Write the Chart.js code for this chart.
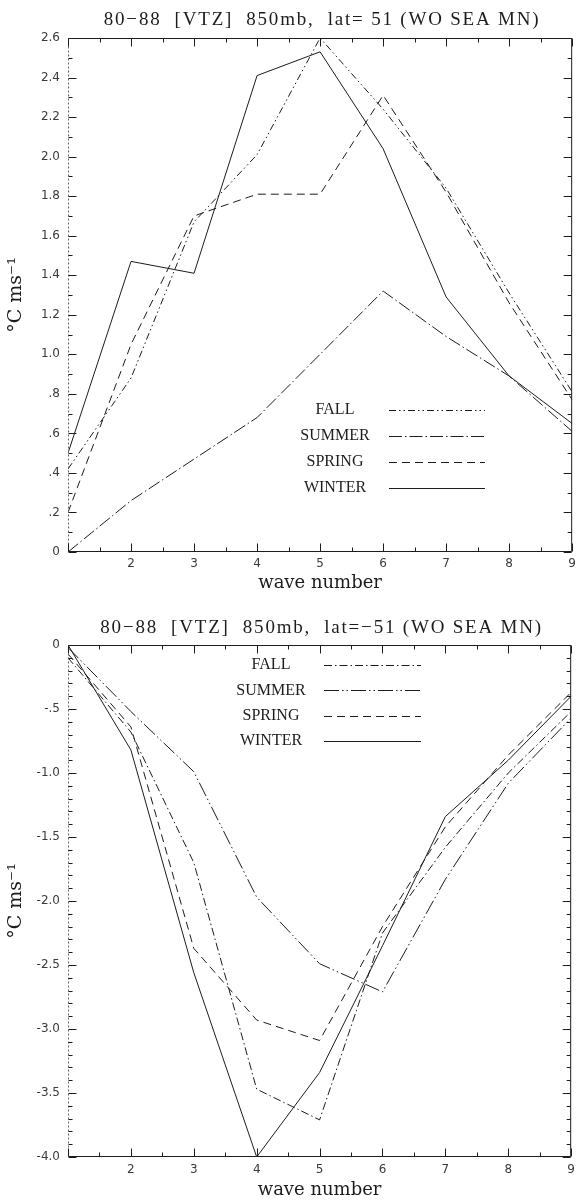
<!DOCTYPE html>
<html>
<head>
<meta charset="utf-8">
<script src="https://cdn.jsdelivr.net/npm/chart.js@4.4.0/dist/chart.umd.min.js"></script>
<style>
  body { margin: 0; background: #fff; }
  canvas { display: block; }
</style>
</head>
<body>
<canvas id="northChart" width="581" height="600"></canvas>
<canvas id="southChart" width="581" height="601"></canvas>
<script>
var waveNumbers = [1, 2, 3, 4, 5, 6, 7, 8, 9];
var waveTickLabels = ["", "2", "3", "4", "5", "6", "7", "8", "9"];

// lat = 51
var northFall = [0.42, 0.88, 1.67, 2.01, 2.60, 2.24, 1.84, 1.31, 0.81];
var northSummer = [0.00, 0.26, 0.47, 0.68, 1.00, 1.32, 1.09, 0.89, 0.61];
var northSpring = [0.20, 1.05, 1.70, 1.81, 1.81, 2.31, 1.82, 1.26, 0.77];
var northWinter = [0.50, 1.47, 1.41, 2.41, 2.53, 2.04, 1.29, 0.89, 0.65];
var northTickValues = [0, 0.2, 0.4, 0.6, 0.8, 1.0, 1.2, 1.4, 1.6, 1.8, 2.0, 2.2, 2.4, 2.6];
var northTickLabels = ["0", ".2", ".4", ".6", ".8", "1.0", "1.2", "1.4", "1.6", "1.8", "2.0", "2.2", "2.4", "2.6"];

// lat = -51
var southFall = [-0.10, -0.68, -1.70, -3.47, -3.71, -2.25, -1.58, -1.00, -0.52];
var southSummer = [-0.02, -0.52, -0.99, -1.97, -2.49, -2.71, -1.83, -1.08, -0.57];
var southSpring = [-0.07, -0.64, -2.37, -2.93, -3.09, -2.20, -1.42, -0.86, -0.37];
var southWinter = [0.00, -0.82, -2.56, -4.00, -3.34, -2.35, -1.34, -0.90, -0.40];
var southTickValues = [-4.0, -3.5, -3.0, -2.5, -2.0, -1.5, -1.0, -0.5, 0];
var southTickLabels = ["-4.0", "-3.5", "-3.0", "-2.5", "-2.0", "-1.5", "-1.0", "-.5", "0"];

var INK = "#1c1c1c";

function points(values) {
  return waveNumbers.map(function (w, i) { return { x: w, y: values[i] }; });
}

// box around the plot with inward major/minor tick marks on all four sides
var frameTicks = {
  id: "frameTicks",
  afterDatasetsDraw: function (chart, args, opts) {
    var ctx = chart.ctx, a = chart.chartArea;
    var xs = chart.scales.x, ys = chart.scales.y;
    var L = a.left + 0.5, R = a.right - 0.5, T = a.top + 0.5, B = a.bottom - 0.5;
    ctx.save();
    ctx.strokeStyle = INK;
    ctx.lineWidth = 1;
    ctx.beginPath();
    ctx.moveTo(L, T); ctx.lineTo(R, T); ctx.lineTo(R, B); ctx.lineTo(L, B);
    ctx.stroke();
    ctx.setLineDash([2, 2]);
    ctx.strokeStyle = "#666";
    ctx.beginPath();
    ctx.moveTo(L, T); ctx.lineTo(L, B);
    ctx.stroke();
    ctx.setLineDash([]);
    ctx.strokeStyle = INK;
    ctx.beginPath();
    var v, p, len, n;
    for (n = 0, v = xs.min; v <= xs.max + 1e-9; n++, v = xs.min + n * opts.xMinor) {
      p = Math.round(xs.getPixelForValue(v)) + 0.5;
      len = Math.abs(v - Math.round(v)) < 1e-6 ? opts.major : opts.minor;
      ctx.moveTo(p, B); ctx.lineTo(p, B - len);
      ctx.moveTo(p, T); ctx.lineTo(p, T + len);
    }
    for (n = 0, v = ys.min; v <= ys.max + 1e-9; n++, v = ys.min + n * opts.yMinor) {
      p = Math.round(ys.getPixelForValue(v)) + 0.5;
      len = opts.yMajorValues.some(function (t) { return Math.abs(t - v) < 1e-6; }) ? opts.major : opts.minor;
      ctx.moveTo(L, p); ctx.lineTo(L + len, p);
      ctx.moveTo(R, p); ctx.lineTo(R - len, p);
    }
    ctx.stroke();
    ctx.restore();
  }
};

// season key drawn inside the plot: name on the left, line sample on the right
var seasonLegend = {
  id: "seasonLegend",
  afterDraw: function (chart, args, opts) {
    var ctx = chart.ctx;
    ctx.save();
    ctx.font = opts.font;
    ctx.fillStyle = INK;
    ctx.textAlign = "center";
    ctx.textBaseline = "middle";
    chart.data.datasets.forEach(function (ds, i) {
      var y = opts.top + i * opts.rowGap;
      ctx.fillText(ds.label, opts.labelX, y);
      ctx.strokeStyle = ds.borderColor;
      ctx.lineWidth = ds.borderWidth;
      ctx.setLineDash(ds.borderDash || []);
      ctx.beginPath();
      ctx.moveTo(opts.lineFrom, Math.round(y) + 0.5);
      ctx.lineTo(opts.lineTo, Math.round(y) + 0.5);
      ctx.stroke();
    });
    ctx.restore();
  }
};

// letter-spaced heading above the plot, centred on the chart area
var spacedTitle = {
  id: "spacedTitle",
  afterDraw: function (chart, args, opts) {
    var ctx = chart.ctx, a = chart.chartArea;
    ctx.save();
    ctx.font = opts.font;
    if ("letterSpacing" in ctx) ctx.letterSpacing = opts.spacing;
    ctx.fillStyle = INK;
    ctx.textAlign = "center";
    ctx.textBaseline = "middle";
    ctx.fillText(opts.text, (a.left + a.right) / 2 + opts.shift, opts.y);
    ctx.restore();
  }
};

function line(label, values, dash) {
  return {
    label: label,
    data: points(values),
    borderColor: INK,
    borderWidth: 1,
    borderDash: dash,
    pointRadius: 0,
    tension: 0,
    fill: false
  };
}

function makeChart(id, s) {
  var ctx = document.getElementById(id);
  return new Chart(ctx, {
    type: "line",
    data: { datasets: s.datasets },
    plugins: [frameTicks, seasonLegend, spacedTitle],
    options: {
      responsive: false,
      animation: false,
      layout: { padding: { left: 0, right: 3, top: s.plotTop, bottom: 0 } },
      plugins: {
        legend: { display: false },
        tooltip: { enabled: false },
        title: { display: false },
        spacedTitle: { text: s.title, font: "19px 'Liberation Serif'", spacing: "1.8px", y: s.titleY, shift: 2 },
        frameTicks: { xMinor: 0.5, yMinor: 0.1, major: 8, minor: 4, yMajorValues: s.yTicks },
        seasonLegend: s.legend
      },
      scales: {
        x: {
          type: "linear",
          min: 1,
          max: 9,
          grid: { display: false, drawTicks: false },
          border: { display: false },
          afterBuildTicks: function (scale) {
            scale.ticks = waveNumbers.map(function (w) { return { value: w }; });
          },
          afterFit: function (scale) { scale.height = s.xHeight; },
          ticks: {
            padding: s.xTickPad,
            maxRotation: 0,
            color: "#3a3a3a",
            font: { family: "DejaVu Sans", size: 12 },
            callback: function (value, index) { return waveTickLabels[index]; }
          },
          title: {
            display: true,
            text: "wave number",
            color: INK,
            font: { family: "DejaVu Serif", size: 18 },
            padding: { top: 0, bottom: s.xTitlePad }
          }
        },
        y: {
          type: "linear",
          min: s.yMin,
          max: s.yMax,
          grid: { display: false, drawTicks: false },
          border: { display: false },
          afterBuildTicks: function (scale) {
            scale.ticks = s.yTicks.map(function (v) { return { value: v }; });
          },
          afterFit: function (scale) { scale.width = 68; },
          ticks: {
            padding: 8,
            color: "#3a3a3a",
            font: { family: "DejaVu Sans", size: 12 },
            callback: function (value, index) { return s.yLabels[index]; }
          },
          title: {
            display: true,
            text: "\u00B0C ms\u207B\u00B9",
            color: INK,
            font: { family: "DejaVu Serif", size: 19 },
            padding: { top: 5, bottom: 0 }
          }
        }
      }
    }
  });
}

makeChart("northChart", {
  title: "80\u221288  [VTZ]  850mb,  lat= 51 (WO SEA MN)",
  titleY: 20,
  plotTop: 38,
  datasets: [
    line("FALL", northFall, [7, 3, 1.5, 3, 1.5, 3]),
    line("SUMMER", northSummer, [13, 3, 1.5, 3]),
    line("SPRING", northSpring, [8, 5]),
    line("WINTER", northWinter, [])
  ],
  yMin: 0,
  yMax: 2.6,
  yTicks: northTickValues,
  yLabels: northTickLabels,
  xHeight: 48,
  xTickPad: 5,
  xTitlePad: 6,
  legend: { font: "16px 'Liberation Serif'", top: 410, rowGap: 26, labelX: 335, lineFrom: 389, lineTo: 485 }
});

makeChart("southChart", {
  title: "80\u221288  [VTZ]  850mb,  lat=\u221251 (WO SEA MN)",
  titleY: 28.3,
  plotTop: 45,
  datasets: [
    line("FALL", southFall, [8, 3, 1.5, 3]),
    line("SUMMER", southSummer, [15, 3, 1.5, 3, 1.5, 3]),
    line("SPRING", southSpring, [8, 5]),
    line("WINTER", southWinter, [])
  ],
  yMin: -4,
  yMax: 0,
  yTicks: southTickValues,
  yLabels: southTickLabels,
  xHeight: 44,
  xTickPad: 6,
  xTitlePad: 0,
  legend: { font: "16px 'Liberation Serif'", top: 65, rowGap: 25.3, labelX: 271, lineFrom: 324, lineTo: 421 }
});
</script>
</body>
</html>
